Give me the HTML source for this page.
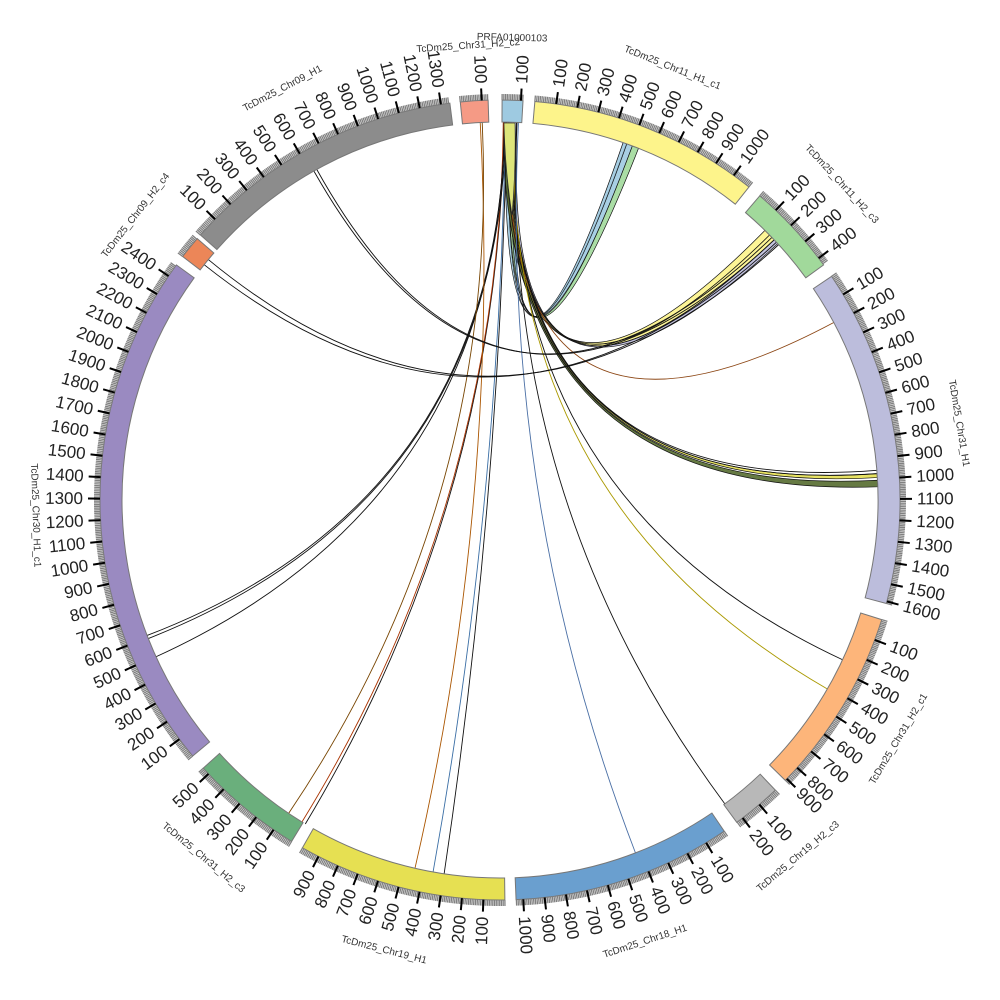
<!DOCTYPE html>
<html><head><meta charset="utf-8"><style>
html,body{margin:0;padding:0;background:#fff;}
svg{display:block;}
text{font-family:"Liberation Sans","DejaVu Sans",sans-serif;}
</style></head><body>
<svg id="c" width="1000" height="1000" viewBox="0 0 1000 1000" xmlns="http://www.w3.org/2000/svg">
<g id="links"></g><g id="strip"></g><g id="sec"></g><g id="lab"></g>
<g id="names" font-size="10" fill="#333">
<text id="n0">PRFA01000103</text>
<text id="n1">TcDm25_Chr11_H1_c1</text>
<text id="n2">TcDm25_Chr11_H2_c3</text>
<text id="n3">TcDm25_Chr31_H1</text>
<text id="n4">TcDm25_Chr31_H2_c1</text>
<text id="n5">TcDm25_Chr19_H2_c3</text>
<text id="n6">TcDm25_Chr18_H1</text>
<text id="n7">TcDm25_Chr19_H1</text>
<text id="n8">TcDm25_Chr31_H2_c3</text>
<text id="n9">TcDm25_Chr30_H1_c1</text>
<text id="n10">TcDm25_Chr09_H2_c4</text>
<text id="n11">TcDm25_Chr09_H1</text>
<text id="n12">TcDm25_Chr31_H2_c2</text>
</g>
</svg>
<script>
var cx=500,cy=500,R1=378,R2=400;
var S=[
{a:0.3,b:3.3,c:"#9ecae1",l:"100"},
{a:5,b:38.5,c:"#fdf48b",l:"100 200 300 400 500 600 700 800 900 1000"},
{a:40.5,b:54,c:"#a1d99b",l:"100 200 300 400"},
{a:56,b:105,c:"#bcbddc",l:"100 200 300 400 500 600 700 800 900 1000 1100 1200 1300 1400 1500 1600"},
{a:107.4,b:134.5,c:"#fdb57a",l:"100 200 300 400 500 600 700 800 900"},
{a:136.5,b:143.7,c:"#b8b8b8",l:"100 200"},
{a:145.9,b:177.7,c:"#6a9fcf",l:"100 200 300 400 500 600 700 800 900 1000"},
{a:179.3,b:209.6,c:"#e6e052",l:"100 200 300 400 500 600 700 800 900"},
{a:211.4,b:227.9,c:"#6aaf7c",l:"100 200 300 400 500"},
{a:230.2,b:306,c:"#9a8ac1",l:"100 200 300 400 500 600 700 800 900 1000 1100 1200 1300 1400 1500 1600 1700 1800 1900 2000 2100 2200 2300 2400"},
{a:307.5,b:310.8,c:"#ec8658",l:""},
{a:311.5,b:352.8,c:"#8c8c8c",l:"100 200 300 400 500 600 700 800 900 1000 1100 1200 1300"},
{a:354.3,b:358.3,c:"#f59a85",l:"100"}
];
var K=32.5;
function P(r,d){var t=d*Math.PI/180;return [cx+r*Math.sin(t),cy-r*Math.cos(t)];}
var NS="http://www.w3.org/2000/svg";
function el(n,at,p){var e=document.createElementNS(NS,n);for(var k in at)e.setAttribute(k,at[k]);p.appendChild(e);return e;}
var sec=document.getElementById("sec"),lab=document.getElementById("lab"),lk=document.getElementById("links"),st=document.getElementById("strip");
S.forEach(function(s,i){
 var p1=P(R2,s.a),p2=P(R2,s.b),p3=P(R1,s.b),p4=P(R1,s.a),lg=(s.b-s.a)>180?1:0;
 el("path",{d:"M"+p1+"A"+R2+","+R2+" 0 "+lg+" 1 "+p2+"L"+p3+"A"+R1+","+R1+" 0 "+lg+" 0 "+p4+"Z",fill:s.c,stroke:"#777","stroke-width":1},sec);
 var L=(s.b-s.a)*K, mt="";
 for(var v=0;v<=L;v+=8){var q=P(R2,s.a+v/K),w=P(R2+6,s.a+v/K);mt+="M"+q+"L"+w;}
 el("path",{d:mt,stroke:"#808080","stroke-width":1.3,fill:"none"},sec);
 var labs=s.l?s.l.split(" "):[];
 labs.forEach(function(t){var v=+t,d=s.a+v/K; if(d>s.b)d=s.b-0.3;
  var q=P(R2,d),w=P(R2+12,d);el("line",{x1:q[0],y1:q[1],x2:w[0],y2:w[1],stroke:"#000","stroke-width":2},lab);
  var tp=P(R2+17,d),rot,anc;
  if(d<180){rot=d-90;anc="start";}else{rot=d+90;anc="end";}
  var tx=el("text",{x:tp[0],y:tp[1],"font-size":17,fill:"#222","text-anchor":anc,"dominant-baseline":"central",transform:"rotate("+rot+" "+tp[0]+" "+tp[1]+")"},lab);tx.textContent=t;
 });
 var m=(s.a+s.b)/2, rr=(s.l?465:420); if(i==0){m=1.5;rr=462;} if(i==12){m=356;rr=455;}
 if(i==10){m=308;rr=462;}
 var np=P(rr,m),nr=(m>90&&m<270)?m-180:m;
 var ne=document.getElementById("n"+i);
 ne.setAttribute("x",np[0]);ne.setAttribute("y",np[1]);ne.setAttribute("text-anchor","middle");ne.setAttribute("dominant-baseline","central");
 ne.setAttribute("transform","rotate("+nr+" "+np[0]+" "+np[1]+")");
});
function link(a1,a2,b1,b2,fill){
 var r=R1,p1=P(r,a1),p2=P(r,a2),q1=P(r,b1),q2=P(r,b2);
 var d="M"+p1+"A"+r+","+r+" 0 0 1 "+p2+"Q"+cx+","+cy+" "+q1+"A"+r+","+r+" 0 0 1 "+q2+"Q"+cx+","+cy+" "+p1+"Z";
 el("path",{d:d,fill:fill,stroke:"#111","stroke-width":0.7,"fill-opacity":0.9},lk);
}
function line(a,b,c){var p=P(R1,a),q=P(R1,b);el("path",{d:"M"+p+"Q"+cx+","+cy+" "+q,fill:"none",stroke:c||"#111","stroke-width":0.9},lk);}
// central self strip near top (drawn above links)
el("path",{d:"M504,123 L515,123 Q516,170 512,215 Q505,170 504,123Z",fill:"#dde57a",stroke:"#333","stroke-width":0.7},st);
// ribbons
link(0.8,1.4,19.5,20.5,"#9ecae1");link(1.4,2.0,20.5,21.5,"#a1d99b");link(1.9,2.4,19,19.6,"#9ecae1");
link(0.9,1.5,44.5,45.5,"#fdf48b");link(1.5,2.1,45.5,46.5,"#fdf48b");link(2.2,2.6,46.5,47.3,"#bcbddc");
link(0.5,0.9,87,88,"#556b2f");link(1.0,1.3,86,86.6,"#e6e052");
// thin lines
line(1.2,62,"#8b4513");line(1.5,85.5);line(1.7,86);line(2.0,115);line(2.2,120,"#aa9900");
line(2.5,143.5);line(2.8,159,"#4a6fa5");line(1.0,188.5);line(0.8,190.2,"#3a6ea5");
line(0.6,211);line(0.5,211.6,"#aa3300");line(0.7,245.5);line(0.9,248.5);line(0.7,249);
line(357,193,"#aa5500");line(357.3,214,"#774400");
line(308.5,47);line(309.5,47.5);line(330.5,46);line(331,46.5);
</script>
</body></html>
